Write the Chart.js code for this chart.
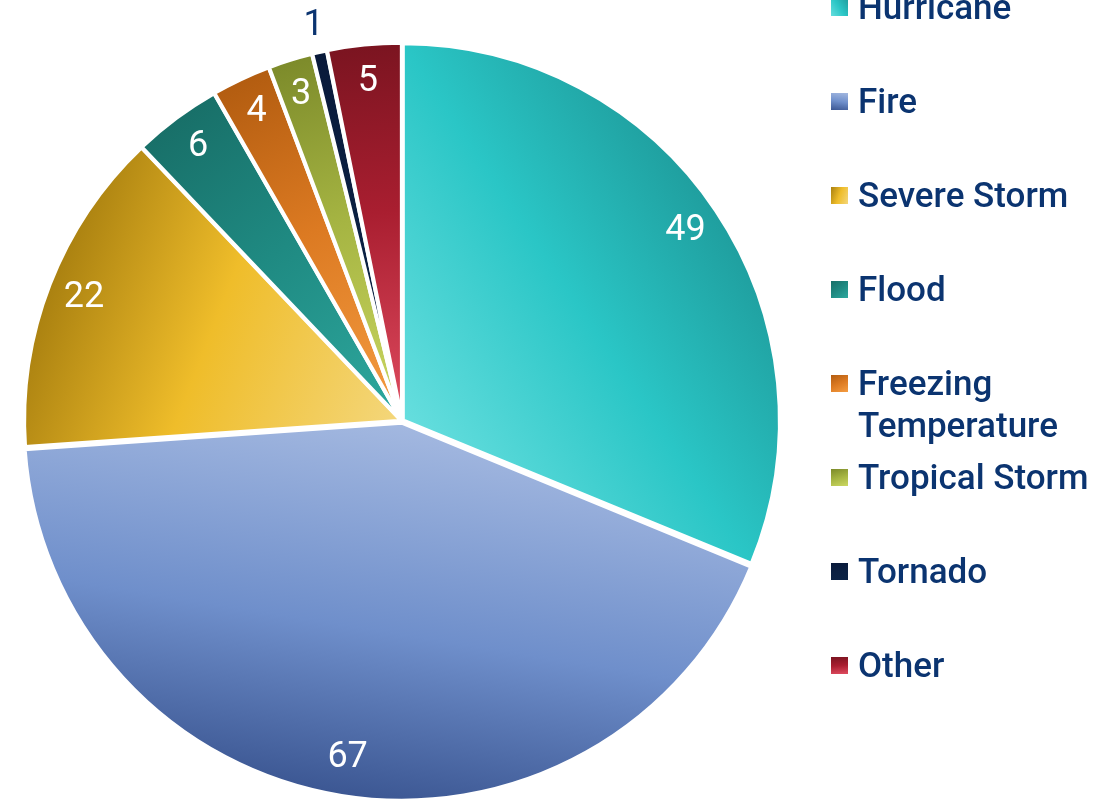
<!DOCTYPE html>
<html>
<head>
<meta charset="utf-8">
<script src="https://cdn.jsdelivr.net/npm/chart.js@4/dist/chart.umd.min.js"></script>
<style>
  html, body { margin: 0; padding: 0; background: #fff; }
  #wrap { position: relative; width: 1120px; height: 802px; overflow: hidden; }
  #legend { position: absolute; left: 831px; top: 0; font-family: Roboto, "Liberation Sans", Arial, sans-serif; font-weight: 500; font-size: 35px; color: #0b3470; }
  .item { position: absolute; left: 0; white-space: nowrap; line-height: 42px; }
  .box { position: absolute; left: 0; width: 17px; height: 17px; }
  .txt { position: absolute; left: 27px; }
</style>
</head>
<body>
<div id="wrap">
  <canvas id="c" width="1120" height="802"></canvas>
  <div id="legend"></div>
</div>
<script>
const categories = ["Hurricane", "Fire", "Severe Storm", "Flood", "Freezing\nTemperature", "Tropical Storm", "Tornado", "Other"];
const counts = [49, 67, 22, 6, 4, 3, 1, 5];

// light (near centre) -> dark (outer edge)
const lightColors = ["#66dede", "#a3b8e0", "#f4d77c", "#2ea99f", "#f59d42", "#ccd862", "#0c2346", "#e04c60"];
const midColors   = ["#2ac6c6", "#6f8fcb", "#efbd2a", "#1f8a82", "#dc7a22", "#a5b442", "#0b2042", "#a91e30"];
const darkColors  = ["#1f9e9e", "#3b5692", "#a98010", "#186f68", "#b25c10", "#7c8a2a", "#09193a", "#7a1420"];

const total = counts.reduce((a, b) => a + b, 0);
function midAngleDeg(i) {
  let before = 0;
  for (let k = 0; k < i; k++) before += counts[k];
  return (before + counts[i] / 2) / total * 360;
}

function sliceFill(ctx) {
  const chart = ctx.chart;
  const i = ctx.dataIndex;
  const ca = chart.chartArea;
  if (!ca || i === undefined) return midColors[i] || "#999";
  const cx = (ca.left + ca.right) / 2;
  const cy = (ca.top + ca.bottom) / 2;
  const r = Math.min(ca.right - ca.left, ca.bottom - ca.top) / 2;
  const a = midAngleDeg(i) * Math.PI / 180;
  const g = chart.ctx.createLinearGradient(cx, cy, cx + Math.sin(a) * r, cy - Math.cos(a) * r);
  g.addColorStop(0, lightColors[i]);
  g.addColorStop(0.55, midColors[i]);
  g.addColorStop(1, darkColors[i]);
  return g;
}

const valueLabels = {
  id: "valueLabels",
  afterDatasetsDraw(chart) {
    const ctx = chart.ctx;
    const meta = chart.getDatasetMeta(0);
    ctx.save();
    ctx.font = "36px Roboto, 'Liberation Sans', Arial, sans-serif";
    ctx.textAlign = "center";
    ctx.textBaseline = "middle";
    meta.data.forEach((arc, i) => {
      const p = arc.getProps(["x", "y", "startAngle", "endAngle", "outerRadius"], true);
      const mid = (p.startAngle + p.endAngle) / 2;
      const outside = counts[i] < 2;
      const rr = outside ? p.outerRadius + 28 : p.outerRadius * 0.905;
      ctx.fillStyle = outside ? "#0b3470" : "#ffffff";
      ctx.fillText(String(counts[i]), p.x + Math.cos(mid) * rr, p.y + Math.sin(mid) * rr);
    });
    ctx.restore();
  }
};

new Chart(document.getElementById("c"), {
  type: "pie",
  data: {
    labels: categories,
    datasets: [{
      data: counts,
      backgroundColor: sliceFill,
      borderColor: "#ffffff",
      borderWidth: 4,
      offset: [4, 7, 3, 2, 2, 2, 2, 3],
      radius: 377,
    }],
  },
  options: {
    responsive: false,
    animation: false,
    layout: { padding: { left: 22, right: 338, top: 41, bottom: 1 } },
    plugins: {
      legend: { display: false },
      tooltip: { enabled: false },
    },
  },
  plugins: [valueLabels],
});

// legend on the right
const legend = document.getElementById("legend");
categories.forEach((name, i) => {
  const y = 8 + i * 94;
  const item = document.createElement("div");
  item.className = "item";
  item.style.top = (y - 21) + "px";
  const box = document.createElement("div");
  box.className = "box";
  box.style.top = "12px";
  box.style.background = "linear-gradient(" + (midAngleDeg(i) + 180) + "deg, " + darkColors[i] + ", " + midColors[i] + ", " + lightColors[i] + ")";
  const txt = document.createElement("div");
  txt.className = "txt";
  txt.innerHTML = name.split("\n").join("<br>");
  item.appendChild(box);
  item.appendChild(txt);
  legend.appendChild(item);
});
</script>
</body>
</html>
